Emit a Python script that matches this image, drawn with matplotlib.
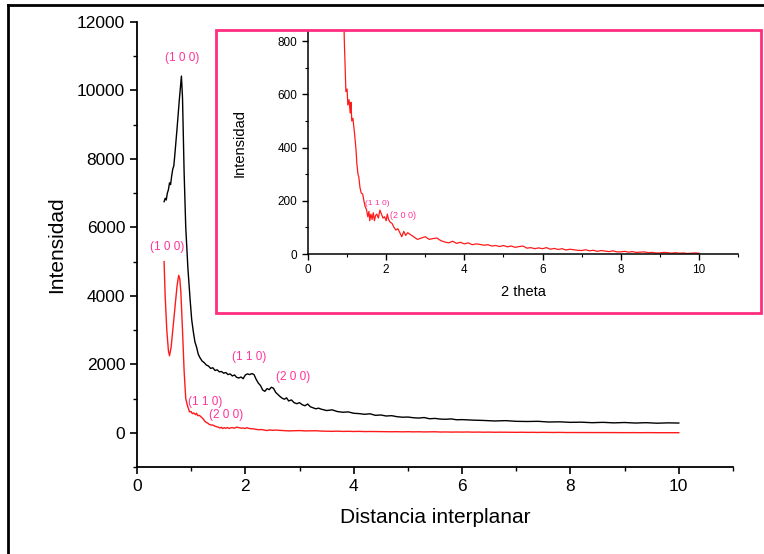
import matplotlib
matplotlib.use("Agg")
import matplotlib.pyplot as plt
from matplotlib.lines import Line2D
from matplotlib.patches import Rectangle
from matplotlib.ticker import MultipleLocator

plt.rcParams['font.family'] = ['Liberation Sans', 'DejaVu Sans']

# muestra 1 (negro)
x_negro = [0.50, 0.52, 0.54, 0.56, 0.58, 0.60, 0.62, 0.64, 0.66, 0.68,
           0.70, 0.74, 0.78, 0.82, 0.84, 0.87, 0.90, 0.94, 0.98, 1.01,
           1.04, 1.07, 1.10, 1.13, 1.16, 1.20, 1.24, 1.28, 1.32, 1.36,
           1.40, 1.44, 1.48, 1.52, 1.56, 1.60, 1.64, 1.68, 1.72, 1.76,
           1.80, 1.84, 1.88, 1.92, 1.96, 2.00, 2.04, 2.08, 2.12, 2.16,
           2.20, 2.24, 2.28, 2.32, 2.36, 2.40, 2.44, 2.48, 2.52, 2.56,
           2.60, 2.64, 2.68, 2.72, 2.76, 2.80, 2.85, 2.90, 2.95, 3.00,
           3.05, 3.10, 3.15, 3.20, 3.25, 3.30, 3.35, 3.40, 3.50, 3.60,
           3.70, 3.80, 3.90, 4.00, 4.10, 4.20, 4.30, 4.40, 4.50, 4.60,
           4.70, 4.80, 4.90, 5.00, 5.10, 5.20, 5.30, 5.40, 5.50, 5.60,
           5.70, 5.80, 5.90, 6.00, 6.20, 6.40, 6.60, 6.80, 7.00, 7.20,
           7.40, 7.60, 7.80, 8.00, 8.20, 8.40, 8.60, 8.80, 9.00, 9.20,
           9.40, 9.60, 9.80, 10.00]
y_negro = [6750, 6850, 6800, 7000, 7100, 7300, 7250, 7500, 7700, 7800,
           8150, 8900, 9700, 10420, 9800, 7600, 6000, 4800, 3900, 3300,
           2950, 2650, 2500, 2300, 2200, 2100, 2050, 1980, 1950, 1880,
           1900, 1820, 1840, 1780, 1790, 1740, 1760, 1700, 1720, 1660,
           1690, 1620, 1600, 1630, 1580, 1690, 1720, 1700, 1730, 1700,
           1560, 1450, 1380, 1250, 1210, 1290, 1260, 1330, 1300, 1180,
           1120, 1060, 1010, 980, 1020, 930, 960, 880, 850, 880,
           820, 790, 840, 760, 730, 700, 720, 690, 650, 670,
           620, 600, 610, 570, 560, 540, 555, 510, 520, 490,
           500, 470, 455, 460, 440, 430, 445, 410, 420, 400,
           395, 405, 380, 385, 370, 360, 345, 355, 335, 330,
           335, 315, 320, 305, 310, 295, 305, 290, 300, 285,
           295, 280, 290, 285]

# muestra 2 (rojo)
x_rojo = [0.50, 0.52, 0.55, 0.58, 0.60, 0.63, 0.66, 0.70, 0.74, 0.77,
          0.79, 0.81, 0.84, 0.87, 0.90, 0.93, 0.95, 0.97, 1.00, 1.02,
          1.05, 1.08, 1.10, 1.12, 1.15, 1.18, 1.20, 1.23, 1.25, 1.28,
          1.30, 1.33, 1.36, 1.40, 1.43, 1.46, 1.50, 1.53, 1.56, 1.58,
          1.61, 1.64, 1.67, 1.70, 1.73, 1.76, 1.80, 1.84, 1.88, 1.92,
          1.96, 2.00, 2.03, 2.06, 2.10, 2.15, 2.20, 2.25, 2.30, 2.35,
          2.40, 2.45, 2.50, 2.55, 2.60, 2.65, 2.70, 2.80, 2.90, 3.00,
          3.10, 3.20, 3.30, 3.40, 3.50, 3.60, 3.70, 3.80, 3.90, 4.00,
          4.10, 4.20, 4.30, 4.40, 4.50, 4.60, 4.70, 4.80, 4.90, 5.00,
          5.10, 5.20, 5.30, 5.40, 5.50, 5.60, 5.70, 5.80, 5.90, 6.00,
          6.10, 6.20, 6.30, 6.40, 6.50, 6.60, 6.70, 6.80, 6.90, 7.00,
          7.10, 7.20, 7.30, 7.40, 7.50, 7.60, 7.70, 7.80, 7.90, 8.00,
          8.10, 8.20, 8.30, 8.40, 8.50, 8.60, 8.70, 8.80, 8.90, 9.00,
          9.10, 9.20, 9.30, 9.40, 9.50, 9.60, 9.70, 9.80, 9.90, 10.00]
y_rojo = [5000, 4000, 3000, 2400, 2250, 2500, 3000, 3700, 4300, 4600,
          4500, 4100, 3000, 1800, 1000, 800, 700, 610, 620, 560,
          580, 530, 570, 500, 510, 470, 440, 390, 340, 300,
          290, 250, 230, 225, 200, 180, 165, 140, 160, 125,
          150, 130, 155, 125, 145, 150, 135, 165, 150, 135,
          140, 125, 150, 130, 120, 115, 100, 90, 95, 80,
          65, 85, 70, 80, 75, 70, 65, 55, 60, 65,
          55, 58, 60, 50, 45, 42, 48, 40, 44, 38,
          42, 35, 38, 36, 33, 35, 30, 32, 28, 32,
          27, 30, 25, 28, 30, 22, 24, 20, 23, 20,
          24, 18, 21, 17, 20, 15, 18, 16, 14, 13,
          16, 12, 14, 10, 13, 11, 9, 12, 8, 8,
          10, 7, 9, 6, 7, 8, 5, 6, 4, 4,
          6, 5, 3, 5, 3, 4, 2, 3, 4, 3]

rosa = '#ff3399'

fig = plt.figure(figsize=(7.64, 5.54), dpi=100)

ax = fig.add_axes([0.1793, 0.157, 0.7801, 0.8033])
ax.plot(x_negro, y_negro, color='black', lw=1.0)
ax.plot(x_rojo, y_rojo, color='#ff1a1a', lw=1.0)
ax.set_xlim(0, 11)
ax.set_ylim(-1000, 12000)
ax.xaxis.set_major_locator(MultipleLocator(2))
ax.xaxis.set_minor_locator(MultipleLocator(1))
ax.yaxis.set_minor_locator(MultipleLocator(1000))
ax.set_yticks(range(0, 12001, 2000))
for s in ['top', 'right']:
    ax.spines[s].set_visible(False)
for s in ['left', 'bottom']:
    ax.spines[s].set_linewidth(1.3)
ax.tick_params(which='major', direction='out', length=5, width=1.2, labelsize=12.5)
ax.tick_params(which='minor', direction='out', length=3, width=1.0)
ax.set_xlabel("Distancia interplanar", fontsize=15, labelpad=10)
ax.set_ylabel("Intensidad", fontsize=15, labelpad=8)

ax.text(0.83, 10950, "(1 0 0)", color=rosa, fontsize=8.5, ha='center', va='center')
ax.text(0.55, 5430, "(1 0 0)", color=rosa, fontsize=8.5, ha='center', va='center')
ax.text(2.08, 2220, "(1 1 0)", color=rosa, fontsize=8.5, ha='center', va='center')
ax.text(2.88, 1635, "(2 0 0)", color=rosa, fontsize=8.5, ha='center', va='center')
ax.text(1.25, 905, "(1 1 0)", color=rosa, fontsize=8.5, ha='center', va='center')
ax.text(1.65, 525, "(2 0 0)", color=rosa, fontsize=8.5, ha='center', va='center')

# recuadro del inset
fig.patches.append(Rectangle((0.2827, 0.435), 0.7134, 0.5108, transform=fig.transFigure,
                             fill=False, edgecolor='#ff2d7f', lw=2.0, zorder=5))

axi = fig.add_axes([0.4031, 0.5415, 0.5629, 0.4025])
axi.plot(x_rojo, y_rojo, color='#ff1a1a', lw=0.9)
axi.set_xlim(0, 11)
axi.set_ylim(0, 838)
axi.xaxis.set_major_locator(MultipleLocator(2))
axi.xaxis.set_minor_locator(MultipleLocator(1))
axi.set_yticks(range(0, 801, 200))
axi.yaxis.set_minor_locator(MultipleLocator(100))
for s in ['top', 'right']:
    axi.spines[s].set_visible(False)
for s in ['left', 'bottom']:
    axi.spines[s].set_linewidth(1.1)
axi.tick_params(which='major', direction='out', length=4, width=1.0, labelsize=8.5)
axi.tick_params(which='minor', direction='out', length=2.5, width=0.8)
axi.set_xlabel("2 theta", fontsize=10.5, labelpad=6)
axi.set_ylabel("Intensidad", fontsize=10.5, labelpad=22)
axi.text(1.76, 191, "(1 1 0)", color=rosa, fontsize=6, ha='center', va='center')
axi.text(2.42, 146, "(2 0 0)", color=rosa, fontsize=6.5, ha='center', va='center')

# borde de la captura
fig.lines.append(Line2D([0.0105, 0.0105], [0, 0.991], transform=fig.transFigure, color='black', lw=2))
fig.lines.append(Line2D([0.0105, 1.0], [0.991, 0.991], transform=fig.transFigure, color='black', lw=2))

fig.savefig("out.png", dpi=100)
